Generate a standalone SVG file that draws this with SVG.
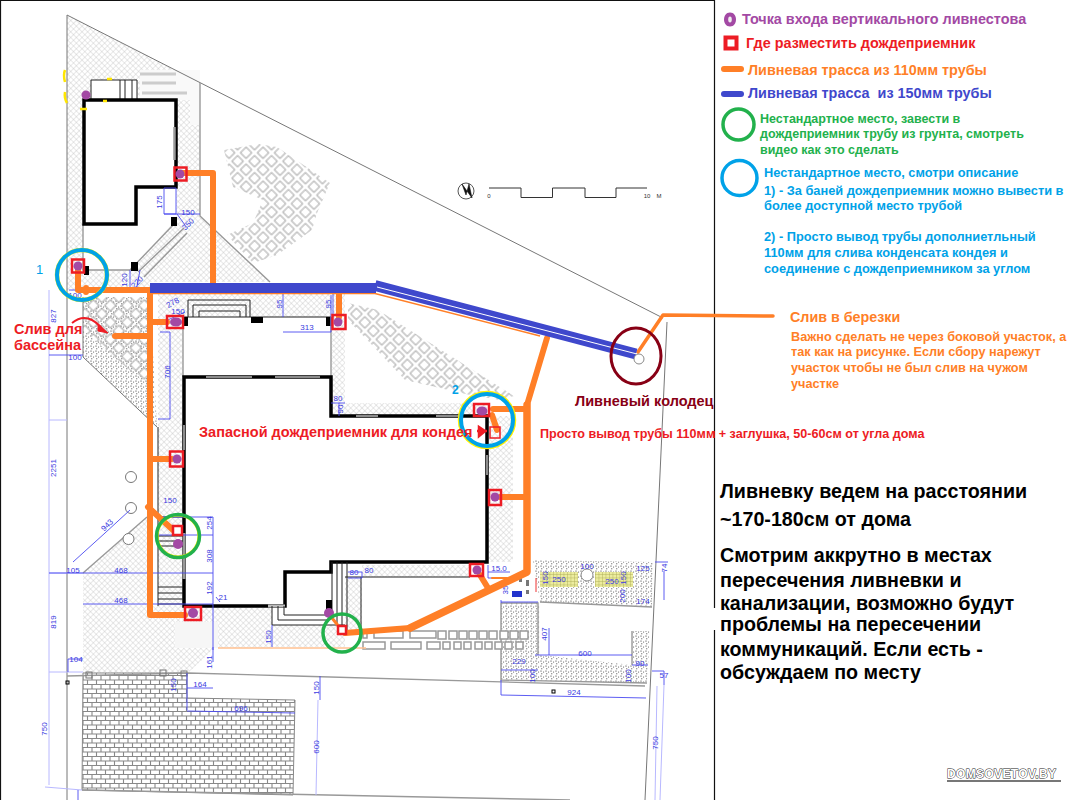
<svg xmlns="http://www.w3.org/2000/svg" width="1075" height="800" viewBox="0 0 1075 800">
<style>
text{font-family:"Liberation Sans",Arial,sans-serif}
.b{font-weight:bold}
.site{fill:none;stroke:#777;stroke-width:1}
.g{fill:none;stroke:#999;stroke-width:1.4}
.wall{fill:none;stroke:#000;stroke-width:3.5}
.thin{fill:none;stroke:#222;stroke-width:1}
.blk{fill:#000}
.d{fill:none;stroke:#4a4af0;stroke-width:.9}
.dl{fill:none;stroke:#b8b8ff;stroke-width:1}
.t{font-size:8px;fill:#3a3ae0;text-anchor:middle}
.p110{fill:none;stroke:#ff7f27;stroke-width:6;stroke-linecap:round;stroke-linejoin:round}
.p150{fill:none;stroke:#3f48cc;stroke-linecap:butt;stroke-linejoin:round}
.sq{fill:none;stroke:#ed1c24;stroke-width:2.5}
.sqw{fill:#fff;stroke:#ed1c24;stroke-width:2.5}
.pu{fill:#a349a4}
.rg{fill:none;stroke:#22b14c;stroke-width:3.5}
.rb{fill:none;stroke:#00a2e8;stroke-width:3.5}
.ry{fill:none;stroke:#fff200;stroke-width:1.2}
.or{fill:#ff7f27}.rd{fill:#ed1c24}.bl{fill:#00a2e8}.gr{fill:#22b14c}
.big{font-size:19.7px;font-weight:bold;fill:#000}
</style>
<defs>
<pattern id="hatch" patternUnits="userSpaceOnUse" width="4" height="4" patternTransform="rotate(45)"><rect width="4" height="4" fill="#fff"/><path d="M0 0H4M0 0V4" stroke="#bbb" stroke-width=".7"/></pattern>
<pattern id="dots" patternUnits="userSpaceOnUse" width="5" height="5"><rect width="5" height="5" fill="#fff"/><circle cx="1" cy="1" r=".6" fill="#222"/><circle cx="3.600" cy="2" r=".5" fill="#333"/><circle cx="1.800" cy="3.800" r=".5" fill="#111"/></pattern>
<pattern id="pave" patternUnits="userSpaceOnUse" width="12" height="12" patternTransform="rotate(45)"><rect x="2" y="2" width="8" height="8" fill="#fff" stroke="#999" stroke-width=".9"/></pattern>
<pattern id="brick" patternUnits="userSpaceOnUse" width="9" height="9"><rect width="9" height="9" fill="#fff"/><path d="M0 .5H9M0 5H9M2 0V4.500M6.500 4.500V9" stroke="#888" stroke-width="1.100"/></pattern>
<pattern id="net" patternUnits="userSpaceOnUse" width="3.500" height="3.500"><rect width="3.500" height="3.500" fill="#ecec9e"/><path d="M0 0H3.500M0 0V3.500" stroke="#a8a850" stroke-width=".8"/></pattern>
</defs>
<rect width="1075" height="800" fill="#fff"/>
<path d="M0 .5H714.5V608M714.5 630V800M.5 0V800" fill="none" stroke="#111" stroke-width="1.200"/>

<g id="site">
<path d="M67 15L200 83V216L270 282H150V293H82L67 290Z" fill="url(#hatch)" stroke="none"/>
<path d="M84 100H176V187H136V224H84Z" fill="#fff"/>
<path d="M83 224V270H130L176 220V187H136V224Z" fill="#fff"/>
<path d="M91 80H137V100H91Z" fill="#fff"/>
<path d="M140 70H200V125H190V100H140Z" fill="#f9f9f9"/>
<path d="M140 74H176M142 83H176M142 93H187" stroke="#ccc" stroke-width="3" fill="none"/>
<path d="M158 293H331V317H183V606H158Z" fill="url(#hatch)"/>
<path d="M331 293H345V403H487V416H331Z" fill="url(#hatch)"/>
<path d="M487 416H513V562H487Z" fill="url(#hatch)"/>
<path d="M362 565H470V577H362Z" fill="url(#hatch)"/>
<path d="M83 573L147 517V606H272V648H215L188 673H83Z" fill="url(#hatch)"/>
<path d="M272 625H345V647H272Z" fill="url(#hatch)"/>
<path d="M345 577H362V630H345Z" fill="url(#hatch)"/>
<path d="M175 622H218V648H175Z" fill="#f6f6f6"/>
<path d="M83 297H150L157 427L83 357Z" fill="url(#dots)"/>
<path d="M83 297H147V385L83 330Z" fill="url(#pave)"/>
<path d="M83 297V357L157 427" class="site"/>
<path d="M83 673H187V698L295 700L293 795L82 790Z" fill="url(#brick)" stroke="#888" stroke-width="1"/>
<path d="M224 150L258 144L277 147L330 183L317 213L312 230L277 255L253 263L227 235L253 223L263 200L233 187Z" fill="url(#pave)"/>
<path d="M348 303L378 310L514 396L500 400L470 395L405 380L372 345L348 320Z" fill="url(#pave)"/>
<path d="M501 603H540V655L632 665V631H650L647 683L501 680Z" fill="url(#dots)"/>
<path d="M533 560L653 562L652 607L628 605L540 602Z" fill="url(#dots)"/>
<rect x="540" y="572" width="38" height="15" fill="url(#net)"/>
<rect x="595" y="572" width="38" height="15" fill="url(#net)"/>
<circle cx="587" cy="575" r="6" fill="#fff" stroke="#888"/>
<path d="M501 603H538V655M632 631V665M501 603V680L647 683M540 602L652 607" class="g"/>
<path d="M67 15L663 318M667 322L645 800M67 15V800" class="site"/>
<path d="M188 673L295 676L645 686M67 676L188 673M82 790L570 800" class="g"/>
<path d="M200 83V216L270 282M83 224V270H130M130 270L176 222M83 573L147 517" class="g"/>
<path d="M138 272L184 228M144 277L187 233" class="g"/>
<path d="M91 80V100M91 80H137V100M120 80V100M125 80V100M132 80V100" class="thin"/>
<path d="M84 100H176V187H136V224H84Z" class="wall"/>
<path d="M174.500 127V160" stroke="#999" stroke-width="2.500"/>
<path d="M65 70Q63 75 65 82M65 92Q64 98 67 103M80 109H87M103 101H107M107 79H112" fill="none" stroke="#ffe600" stroke-width="2.500"/>
<rect x="171" y="217" width="6" height="9" class="blk"/><rect x="131" y="262" width="7" height="9" class="blk"/><rect x="84" y="266" width="5" height="9" class="blk"/>
<path d="M188 317V300H250V317M193 317V305H246V317M199 317V311H240V317" class="thin"/>
<path d="M183 317H331V416H487V562H330V572H287V606H183Z" fill="#fff"/>
<path d="M183 317H331" class="thin"/>
<rect x="183" y="317" width="5" height="9" class="blk"/><rect x="251" y="317" width="12" height="6" class="blk"/><rect x="326" y="317" width="6" height="9" class="blk"/>
<path d="M183 317V377M331 317V377" class="g"/>
<path d="M184 377V606H285V572H331V562H487V416H331V377Z" class="wall"/>
<path d="M206 377H252M275 377H320M356 416H378M436 416H460M487 455V475M184 425V450" stroke="#bbb" stroke-width="1.500" fill="none"/>
<path d="M184 533V579" stroke="#999" stroke-width="3"/>
<path d="M285 606H268" stroke="#bbb" stroke-width="3"/>
<path d="M158 517H183M158 536H183M158 541H183M158 546H183M158 587H183M158 593H183M158 599H183M158 604H183" class="thin"/>
<path d="M158 427V606" class="thin"/>
<path d="M272 606V625H345M278 606V620H328M284 606V615H328M332 562V615M337 562V625M342 562V630M347 562V635M361 577V630" class="thin"/>
<path d="M345 577H362M362 577H470" class="thin"/>
<rect x="326" y="600" width="6" height="11" class="blk"/>
<circle cx="131" cy="508" r="5.500" fill="#fff" stroke="#777"/>
<circle cx="128.500" cy="539" r="5.500" fill="#fff" stroke="#777"/><circle cx="131" cy="477" r="5.500" fill="#fff" stroke="#777"/>
<g fill="#fff" stroke="#999" stroke-width="1.500">
<path d="M363 631H367V638H363Z"/><path d="M374 631H403V638H374Z"/><path d="M410 631H436V638H410Z"/>
<rect x="438" y="631" width="8" height="8"/><rect x="449" y="631" width="8" height="8"/><rect x="459" y="631" width="8" height="8"/><rect x="469" y="631" width="8" height="8"/><rect x="479" y="631" width="8" height="8"/><rect x="489" y="631" width="8" height="8"/><rect x="500" y="631" width="8" height="8"/><rect x="510" y="631" width="8" height="8"/><rect x="520" y="631" width="8" height="8"/>
<path d="M363 642H385V649H363Z"/><path d="M391 642H421V649H391Z"/><path d="M427 642H440V649H427Z"/>
<rect x="443" y="642" width="7" height="7"/><rect x="454" y="642" width="7" height="7"/><rect x="464" y="642" width="7" height="7"/><rect x="475" y="642" width="7" height="7"/><rect x="485" y="642" width="7" height="7"/><rect x="495" y="642" width="7" height="7"/><rect x="505" y="642" width="7" height="7"/><rect x="516" y="642" width="7" height="7"/>
</g>
<rect x="512" y="591" width="10" height="6" fill="#2233cc"/>
<path d="M519 578h3v4h-3zM526 580h3v6h-3zM526 590h3v4h-3z" fill="#777"/>
<path d="M536 578V592" stroke="#e33" stroke-width="1"/>
<rect x="86" y="672" width="6" height="6" fill="none" stroke="#777"/><rect x="160" y="670" width="6" height="6" fill="none" stroke="#777"/><rect x="181" y="671" width="6" height="5" fill="none" stroke="#777"/>
<rect x="66" y="681" width="3" height="3" fill="none" stroke="#000"/><rect x="552" y="690" width="3" height="3" fill="none" stroke="#000"/>
<path d="M218 648H366" stroke="#ffc190" stroke-width="1.500"/>
</g>

<g id="scale">
<circle cx="466" cy="191" r="8" fill="#fff" stroke="#555"/><path d="M462 184L472 198L469 184L466 195Z" fill="#111" stroke="#111" stroke-width=".6"/>
<path d="M489 188H521V197.500H552.500V188H585V197.500H616V188H647" fill="none" stroke="#333" stroke-width="1"/>
<text x="489" y="198" font-size="6" fill="#333" text-anchor="middle">0</text><text x="647" y="198" font-size="6" fill="#333" text-anchor="middle">10</text><text x="659" y="198" font-size="6" fill="#333" text-anchor="middle">М</text>
</g>

<g id="dimensions">
<path class="dl" d="M49 290V785M49 420H67M49 672H83M45 787L82 790M49 573H83"/>
<path class="d" d="M49 573H83M83 573H213M83 604H213M68 659H83M49 355H83M68 659V672M69 290H82M158 419H170V332H160M158 517H213V604M158 535H213M157 325L185 312"/>
<path class="d" d="M164 188V214H176V188ZM164 214H200M177 214L185 225M130 270V292M136 292L140 270M283 293V317M283 332H331V295M333 293V317M331 403H345M339 403V416"/>
<path class="d" d="M187 673V710M187 688H213M213 662V647M187 711L295 713M213 604V650M216 597L220 602M272 625V647M73 562L105 533L130 510M348 578H362M362 578V572M348 572H362"/>
<path class="d" d="M488 565V578H510M488 572H510M501 602H538M501 600V603M501 670H538M535 655H632M549 628V655M501 680V695L646 698M632 665H648M652 671H664V685M664 571V600M655 562H668"/>
<path class="dl" d="M657 686L655 800M664 685L660 800M318 700L316 795"/>
<path class="d" d="M320 676V700M78 790V800"/>
<g>
<text class="t" transform="translate(162 202) rotate(-90)">175</text>
<text class="t" x="188" y="215">150</text>
<text class="t" transform="translate(190 226) rotate(-45)">350</text>
<text class="t" transform="translate(127 280) rotate(-90)">120</text>
<text class="t" transform="translate(139 284) rotate(-45)">220</text>
<text class="t" x="75" y="298">100</text>
<text class="t" transform="translate(174 305) rotate(-30)">278</text>
<text class="t" x="178" y="314">150</text>
<text class="t" transform="translate(282 304) rotate(-90)">95</text>
<text class="t" transform="translate(331 304) rotate(-90)">95</text>
<text class="t" x="307" y="330">313</text>
<text class="t" x="338" y="401">80</text>
<text class="t" transform="translate(343 409) rotate(-90)">90</text>
<text class="t" transform="translate(56 316) rotate(-90)">827</text>
<text class="t" x="75" y="360">100</text>
<text class="t" transform="translate(170 372) rotate(-90)">706</text>
<text class="t" transform="translate(56 468) rotate(-90)">2251</text>
<text class="t" x="170" y="503">150</text>
<text class="t" transform="translate(212 523) rotate(-90)">254</text>
<text class="t" transform="translate(109 527) rotate(-45)">943</text>
<text class="t" transform="translate(212 556) rotate(-90)">308</text>
<text class="t" transform="translate(212 588) rotate(-90)">192</text>
<text class="t" x="223" y="600">21</text>
<text class="t" x="73" y="573">105</text>
<text class="t" x="121" y="573">468</text>
<text class="t" x="121" y="603">468</text>
<text class="t" transform="translate(56 622) rotate(-90)">819</text>
<text class="t" x="76" y="662">104</text>
<text class="t" transform="translate(212 662) rotate(-90)">161</text>
<text class="t" transform="translate(176 685) rotate(-90)">150</text>
<text class="t" x="200" y="687">164</text>
<text class="t" transform="translate(319 688) rotate(-90)">150</text>
<text class="t" x="241" y="711">696</text>
<text class="t" transform="translate(319 747) rotate(-90)">600</text>
<text class="t" transform="translate(47 729) rotate(-90)">750</text>
<text class="t" transform="translate(271 637) rotate(-90)">150</text>
<text class="t" x="354" y="575">80</text>
<text class="t" x="369" y="573">80</text>
<text class="t" x="499" y="571" font-size="9">15.0</text>
<text class="t" x="519" y="664">229</text>
<text class="t" x="585" y="656">600</text>
<text class="t" transform="translate(547 634) rotate(-90)">407</text>
<text class="t" transform="translate(535 676) rotate(-90)">100</text>
<text class="t" transform="translate(631 676) rotate(-90)">100</text>
<text class="t" x="574" y="695">924</text>
<text class="t" x="640" y="666">90</text>
<text class="t" x="664" y="678">57</text>
<text class="t" transform="translate(658 743) rotate(-90)">750</text>
<text class="t" transform="translate(667 568) rotate(-90)">74</text>
<text class="t" x="559" y="582">250</text>
<text class="t" x="612" y="584">250</text>
<text class="t" x="587" y="569">100</text>
<text class="t" x="643" y="571">125</text>
<text class="t" transform="translate(548 578) rotate(-90)">150</text>
<text class="t" transform="translate(626 578) rotate(-90)">150</text>
<text class="t" transform="translate(625 596) rotate(-90)">200</text>
<text class="t" x="643" y="604">174</text>
<text class="t" transform="translate(508 590) rotate(-90)">35</text>
</g>
</g>

<g id="connectors">
<path d="M150 293.500H375L540 336" fill="none" stroke="#ff7f27" stroke-width="1.500"/>
<path class="p110" d="M78 270V290H150M86 288V292"/>
<path class="p110" d="M150 293V615H185M150 322H167M115 336H150M150 459H172M148 507L173 530"/>
<path class="p110" d="M180 173H213V283"/>
<path class="p110" d="M339 293V317"/>
<path class="p110" style="stroke-width:7.500" d="M527 405V572L410 628"/>
<path class="p110" style="stroke-width:6" d="M547 338L527 405M410 628L345 633"/>
<path class="p110" d="M493 409H527M497 430L492 415"/>
<path class="p110" d="M500 497H527M480 575L488 588"/>
<path class="p110" style="stroke-width:2" d="M492 578H507"/>
<path class="p110" style="stroke-width:3" d="M328 613L340 628"/>
<path class="p110" style="stroke-width:3.500" d="M638 352L663 315L773 316"/>
<path class="p150" stroke-width="10" d="M150 288H376"/>
<path class="p150" stroke-width="11" d="M375 285.500L636 354"/>
<path d="M377 287L637 354" stroke="#fff" stroke-width="1"/>
<path d="M72 323Q88 310 104 331" fill="none" stroke="#ed1c24" stroke-width="2"/><path d="M98 324L108 333L98 331Z" fill="#ed1c24" stroke="#ed1c24"/>
<path d="M477 431H487M479 427L485 431L479 436Z" stroke="#ed1c24" stroke-width="2.500" fill="#ed1c24"/>
</g>

<g id="inlet-bath-east"><rect x="174.500" y="167.500" width="12" height="13" class="sq"/><circle cx="180" cy="174" r="4.500" class="pu"/></g>
<g id="inlet-bath-corner"><rect x="72" y="259.500" width="12" height="13" class="sq"/><circle cx="78" cy="266" r="4.500" class="pu"/><circle cx="82" cy="275" r="25" class="ry" style="stroke-width:4.500"/><circle cx="82" cy="275" r="25" class="rb" style="stroke-width:4"/></g>
<g id="inlet-bath-top"><circle cx="86" cy="95" r="4.500" class="pu"/></g>
<g id="inlet-house-nw"><rect x="167" y="316" width="16" height="12" class="sq"/><ellipse cx="176" cy="322" rx="6" ry="4.500" class="pu"/></g>
<g id="inlet-house-ne"><rect x="332.500" y="315" width="13" height="14" class="sq"/><circle cx="338" cy="322" r="4.500" class="pu"/></g>
<g id="inlet-house-w"><rect x="170" y="451.500" width="13" height="15" class="sq"/><circle cx="177" cy="459" r="4.500" class="pu"/></g>
<g id="inlet-house-w2"><rect x="173" y="526" width="9" height="9" class="sqw"/><circle cx="178" cy="544" r="5" class="pu"/><circle cx="178" cy="536" r="20" class="ry"/><circle cx="178" cy="536" r="21.500" class="rg"/></g>
<g id="inlet-house-sw"><rect x="185" y="607" width="16" height="13" class="sq"/><circle cx="193" cy="613" r="5" class="pu"/></g>
<g id="inlet-house-s"><circle cx="329" cy="613" r="5" class="pu"/><rect x="338" y="626" width="8" height="8" class="sqw"/><circle cx="342" cy="633" r="19" class="rg"/></g>
<g id="inlet-house-se"><rect x="470" y="564" width="13" height="12" class="sq"/><circle cx="477" cy="570" r="4.500" class="pu"/></g>
<g id="inlet-house-e"><rect x="489" y="490" width="12" height="15" class="sq"/><circle cx="495" cy="497" r="4.500" class="pu"/></g>
<g id="inlet-house-corner"><rect x="474" y="404" width="15" height="12" class="sq"/><ellipse cx="482" cy="411" rx="5.500" ry="4.500" class="pu"/><rect x="490" y="427" width="10" height="11" fill="none" stroke="#ed1c24" stroke-width="1.500"/><circle cx="487" cy="420" r="27" class="ry" style="stroke-width:4.500"/><circle cx="487" cy="420" r="26" class="rb" style="stroke-width:4"/></g>
<g id="well"><circle cx="639" cy="359" r="5" fill="#fff" stroke="#888"/><ellipse cx="636" cy="356" rx="25" ry="28" fill="none" stroke="#880015" stroke-width="3"/></g>

<g id="legend">
<path d="M730 12.500C734 12.500 736 16 736 19.500C736 23 734 26.500 730 26.500C726 26.500 724 23 724 19.500C724 16 726 12.500 730 12.500Z" class="pu"/><ellipse cx="730" cy="19.500" rx="1.800" ry="3" fill="#eee"/>
<text class="b" x="742" y="24" font-size="14.400" fill="#a349a4">Точка входа вертикального ливнестова</text>
<rect x="725.500" y="37.500" width="11" height="11" fill="#fff" stroke="#ed1c24" stroke-width="4"/>
<text class="b" x="746" y="48" font-size="14.400" fill="#ed1c24">Где разместить дождеприемник</text>
<path d="M724 69H741" stroke="#ff7f27" stroke-width="6" stroke-linecap="round"/>
<text class="b" x="748" y="75" font-size="14.400" fill="#ff7f27">Ливневая трасса из 110мм трубы</text>
<path d="M724 94H741" stroke="#3f48cc" stroke-width="6" stroke-linecap="round"/>
<text class="b" x="748" y="98" font-size="14.400" fill="#3f48cc" style="white-space:pre">Ливневая трасса  из 150мм трубы</text>
<circle cx="738.500" cy="124.500" r="15.500" fill="none" stroke="#22b14c" stroke-width="3.500"/>
<g class="b gr" font-size="12.500"><text x="760" y="123">Нестандартное место, завести в</text><text x="760" y="138">дождеприемник трубу из грунта, смотреть</text><text x="760" y="154">видео как это сделать</text></g>
<circle cx="739.500" cy="178" r="17.500" fill="none" stroke="#00a2e8" stroke-width="3.500"/>
<g class="b bl" font-size="12.800"><text x="764" y="177">Нестандартное место, смотри описание</text><text x="764" y="195">1) - За баней дождеприемник можно вывести в</text><text x="764" y="210">более доступной место трубой</text><text x="764" y="241">2) - Просто вывод трубы дополниетльный</text><text x="764" y="257">110мм для слива конденсата кондея и</text><text x="764" y="273">соединение с дождеприемником за углом</text></g>
</g>

<g id="labels">
<text class="b or" x="790" y="322" font-size="14.300">Слив в березки</text>
<g class="b or" font-size="12.700"><text x="791" y="341">Важно сделать не через боковой участок, а</text><text x="791" y="356">так как на рисунке. Если сбору нарежут</text><text x="791" y="372">участок чтобы не был слив на чужом</text><text x="791" y="388">участке</text></g>
<text class="b" x="575" y="406" font-size="14.500" fill="#880015">Ливневый колодец</text>
<text class="b rd" x="540" y="438" font-size="12.600">Просто вывод трубы 110мм + заглушка, 50-60см от угла дома</text>
<text class="b rd" x="199" y="437" font-size="14.500">Запасной дождеприемник для кондея</text>
<text class="b rd" x="14" y="334" font-size="14.500">Слив для</text><text class="b rd" x="14" y="350" font-size="14.500">бассейна</text>
<text class="bl" x="36" y="274" font-size="13">1</text><text class="bl" x="452" y="394" font-size="12" font-weight="bold">2</text>
<text class="big" x="720" y="498">Ливневку ведем на расстоянии</text>
<text class="big" x="720" y="526">~170-180см от дома</text>
<text class="big" x="720" y="562">Смотрим аккрутно в местах</text>
<text class="big" x="720" y="587">пересечения ливневки и</text>
<text class="big" x="720" y="610">канализации, возможно будут</text>
<text class="big" x="720" y="631">проблемы на пересечении</text>
<text class="big" x="720" y="656">коммуникаций. Если есть -</text>
<text class="big" x="720" y="679">обсуждаем по месту</text>
<path d="M947 781H1061" stroke="#777" stroke-width="2"/>
<text class="b" x="947" y="778" font-size="12" fill="#fff" stroke="#222" stroke-width=".9" paint-order="stroke" letter-spacing=".35">DOMSOVETOV.BY</text>
</g>
</svg>
